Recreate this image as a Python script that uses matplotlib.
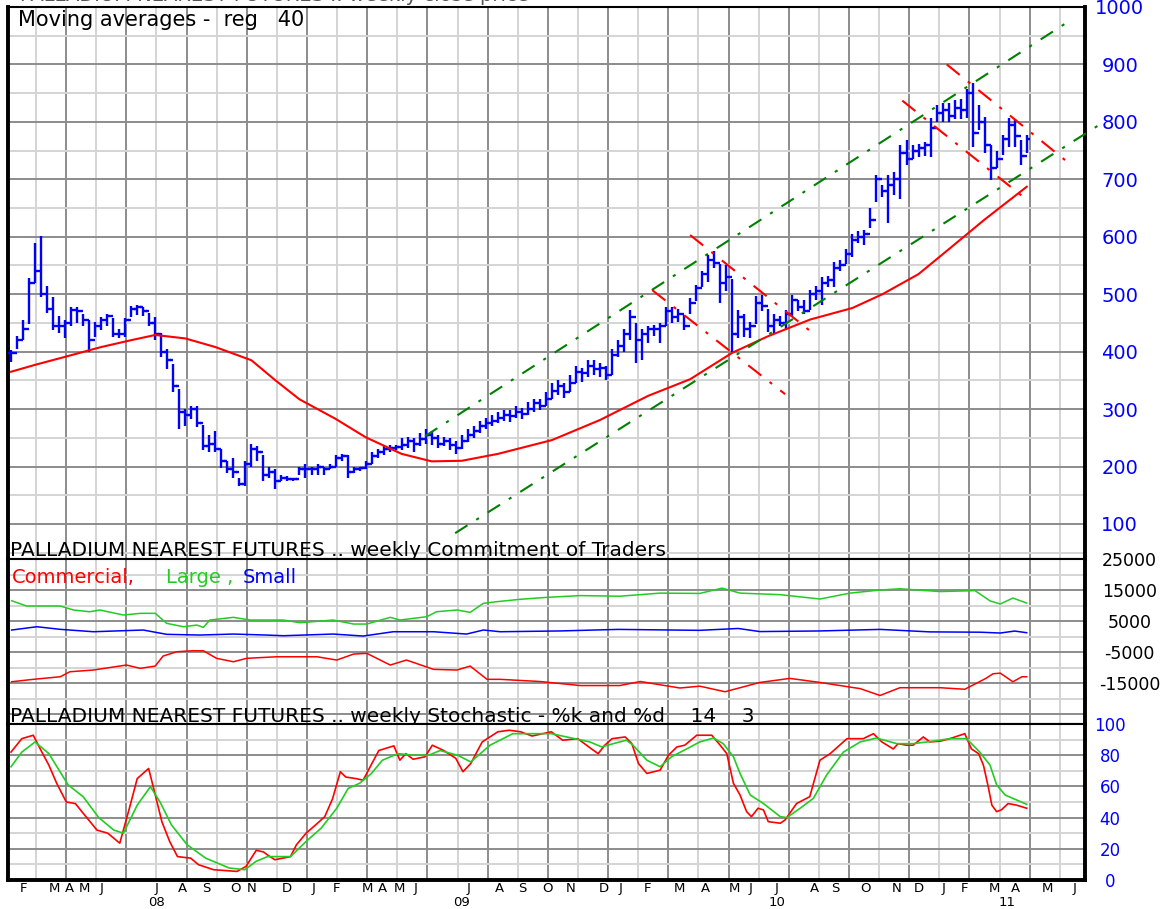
import matplotlib
matplotlib.use("Agg")
import matplotlib.pyplot as plt
import numpy as np
from matplotlib.transforms import blended_transform_factory

# weekly bars, one per week starting early Feb 2008
highs = [402, 428, 455, 528, 590, 601, 515, 495, 462, 455, 478, 478, 465, 455, 452, 460, 466, 458, 440, 458,
         480, 482, 478, 468, 460, 432, 405, 378, 335, 300, 306, 306, 272, 255, 262, 231, 210, 215, 180, 210,
         240, 235, 220, 200, 195, 185, 183, 180, 200, 205, 200, 205, 200, 205, 220, 222, 220, 200, 200, 210,
         225, 230, 235, 238, 238,
         250, 252, 250, 258, 265, 262, 255, 252, 250, 245, 255, 265, 270, 280, 285, 290, 295, 298, 298, 305,
         302, 312, 318, 318, 330, 345, 350, 345, 360, 375, 372, 385, 385, 380, 375, 405, 420, 440, 472, 450,
         440, 445,
         447, 450, 478, 478, 475, 464, 493, 516, 541, 568, 575, 553, 550, 527, 472, 465, 452, 496, 498, 475,
         465, 462, 472, 498, 490, 490, 507, 515, 530, 532, 556, 560, 578, 604,
         610, 612, 650, 708, 690, 708, 713, 760, 768, 760, 762, 765, 806, 829, 832, 832, 838, 840, 858, 868,
         829, 809, 760, 750, 777, 806, 805, 768, 777]
lows = [382, 405, 420, 448, 520, 495, 468, 438, 432, 423, 445, 450, 445, 400, 425, 438, 445, 425, 423, 425,
        460, 463, 462, 445, 420, 390, 370, 330, 265, 270, 283, 268, 228, 225, 225, 198, 188, 180, 166, 166,
        200, 210, 175, 180, 160, 175, 175, 175, 185, 180, 185, 185, 185, 195, 200, 210, 180, 188, 193, 195,
        205, 215, 220, 226, 228,
        228, 232, 225, 235, 240, 238, 232, 235, 228, 222, 230, 242, 250, 258, 265, 270, 275, 280, 278, 285,
        282, 290, 295, 298, 305, 318, 325, 320, 330, 345, 348, 355, 360, 355, 350, 360, 390, 400, 420, 380,
        385, 415,
        428, 415, 445, 450, 452, 438, 465, 488, 512, 522, 545, 484, 505, 400, 424, 425, 424, 448, 470, 435,
        430, 445, 438, 462, 470, 465, 472, 490, 481, 512, 513, 540, 553, 564,
        590, 585, 615, 660, 670, 624, 673, 665, 725, 735, 739, 740, 739, 800, 800, 800, 805, 805, 806, 757,
        786, 745, 699, 720, 742, 757, 757, 725, 745]
closes = [398, 420, 440, 520, 540, 500, 475, 445, 445, 450, 472, 470, 455, 420, 445, 455, 462, 430, 430, 455,
          475, 478, 470, 450, 430, 400, 385, 340, 295, 290, 300, 275, 235, 240, 230, 210, 195, 190, 170, 205,
          230, 225, 185, 190, 175, 180, 178, 178, 195, 195, 195, 200, 195, 200, 215, 218, 190, 195, 197, 205,
          218, 225, 230, 232, 234,
          238, 245, 240, 248, 255, 250, 240, 245, 238, 232, 245, 255, 262, 270, 275, 280, 285, 290, 288, 295,
          292, 300, 310, 305, 318, 332, 340, 330, 345, 365, 362, 375, 370, 372, 360, 395, 410, 430, 460, 420,
          430, 440,
          440, 445, 470, 460, 465, 445, 485, 510, 535, 560, 555, 520, 530, 430, 460, 440, 445, 485, 480, 445,
          455, 450, 465, 490, 478, 470, 500, 505, 520, 525, 545, 550, 570, 595,
          600, 605, 630, 700, 680, 690, 700, 745, 735, 750, 755, 760, 790, 815, 820, 810, 825, 820, 850, 780,
          800, 760, 720, 735, 770, 795, 775, 740, 770]

# 40 week moving average
ma_weeks = [0, 4, 9, 15, 20, 24, 29, 34, 40, 44, 48, 54, 59, 65, 70, 75, 81, 90, 98, 106,
            113, 120, 126, 133, 140, 145, 151, 156, 162, 169]
ma_vals = [365, 377, 391, 408, 420, 429, 423, 408, 385, 350, 317, 283, 251, 222, 209, 210, 222, 246, 281, 323,
           352, 398, 427, 456, 476, 500, 535, 578, 630, 687]

# hand drawn trend lines (start, end)
chan_weeks = [[68.9, 175.4], [73.9, 182.0]]
chan_vals = [[253, 971], [84, 801]]
down_weeks = [[106.7, 128.8], [113.0, 133.8], [148.3, 169.2], [155.7, 176.5]]
down_vals = [[507, 326], [603, 429], [837, 663], [900, 724]]

# commitment of traders
comm_weeks = [0.1, 3.7, 8.2, 9.8, 13.7, 19.2, 21.5, 24.0, 25.3, 27.6, 30.3, 32.0, 34.2, 37.0, 39.2, 44.2,
              50.9, 54.2, 57.0, 59.2, 63.1, 65.8, 70.3, 74.2, 76.4, 79.2, 81.4, 88.0, 94.7, 101.3, 104.7,
              111.3, 114.6, 118.8, 124.6, 129.6, 134.6, 141.3, 144.6, 147.9, 154.6, 158.7, 162.2, 163.4,
              164.6, 166.7, 168.2, 169.0]
comm_vals = [-14580, -13800, -12970, -11350, -10800, -9190, -10260, -9520, -6290, -4900, -4580, -4580,
             -7030, -8130, -7030, -6520, -6520, -7580, -5650, -5420, -9190, -7580, -10580, -10800, -9520,
             -13800, -13800, -14500, -15800, -15800, -14500, -16600, -16000, -17800, -14800, -13500,
             -14800, -16800, -19000, -16500, -16500, -17000, -13500, -12000, -11800, -14580, -12970, -12970]
large_weeks = [0.1, 2.6, 8.2, 10.4, 13.1, 14.8, 18.7, 21.5, 24.0, 25.9, 28.7, 30.9, 32.0, 33.1, 37.0, 39.8,
               45.3, 48.1, 53.6, 57.0, 59.2, 63.1, 64.7, 69.2, 70.8, 74.2, 76.4, 78.6, 80.8, 84.7, 88.9,
               94.7, 101.3, 108.0, 114.6, 118.3, 121.3, 128.0, 134.6, 139.6, 144.6, 147.9, 154.6, 160.4,
               162.9, 164.6, 166.7, 169.0]
large_vals = [11550, 9840, 9840, 8550, 8000, 8550, 6940, 7480, 7480, 4260, 3160, 3700, 2960, 5320, 6190,
              5320, 5320, 4450, 5320, 4030, 4030, 6190, 5320, 6400, 8000, 8550, 7800, 10700, 11230, 12000,
              12600, 13200, 13000, 14000, 13900, 15600, 14000, 13500, 12100, 14000, 15000, 15400, 14500,
              14800, 11500, 10500, 12400, 10800]
small_weeks = [0.1, 4.3, 8.2, 13.7, 22.0, 25.9, 31.4, 37.0, 42.5, 45.3, 53.6, 58.6, 63.6, 70.3, 75.8, 78.6,
               81.4, 91.3, 101.0, 114.6, 121.0, 124.6, 134.6, 144.6, 152.9, 161.2, 164.6, 167.0, 169.0]
small_vals = [2100, 3160, 2320, 1550, 2100, 710, 480, 800, 480, 260, 800, 160, 1550, 1550, 800, 2100, 1550,
              1800, 2300, 2000, 2600, 1600, 1800, 2300, 1500, 1400, 1130, 1770, 1230]

# stochastic %k / %d
k_weeks = [0, 1.8, 3.7, 5.0, 6.3, 7.6, 9.2, 10.7, 12.6, 14.3, 16.1, 18.1, 19.7, 21.0, 22.9, 23.8, 25.1,
           26.4, 27.7, 29.9, 31.2, 33.7, 37.6, 39.1, 40.8, 42.0, 42.7, 43.9, 46.5, 47.5, 49.1, 51.0, 52.2,
           53.5, 54.8, 55.7, 57.4, 58.6, 59.9, 61.2, 63.7, 64.7, 65.7, 66.9, 68.9, 70.1, 72.0, 74.0, 75.2,
           76.5, 78.4, 81.0, 82.9, 84.8, 86.7, 89.9, 91.8, 94.3, 96.6, 97.7, 98.8, 100.0, 102.2, 103.3,
           104.4, 105.8, 108.0, 109.4, 110.8, 112.1, 114.1, 116.6, 118.0, 119.1, 120.2, 121.3, 122.4, 123.2,
           124.3, 125.2, 126.0, 128.0, 128.8, 130.7, 132.9, 134.6, 136.3, 139.1, 141.8, 143.5, 144.9, 146.8,
           147.6, 149.0, 150.1, 151.8, 152.9, 154.6, 156.2, 158.7, 159.8, 161.0, 161.8, 162.6, 163.2, 164.0,
           164.8, 165.9, 167.3, 169.0]
k_vals = [82, 90.6, 92.8, 83, 73.6, 62, 50, 49, 40, 32, 30, 23.6, 46, 65, 71.5, 57.7, 37.4, 24.7, 15, 14,
          9.8, 6.6, 5.5, 8.7, 19, 18, 16, 13, 15, 22.6, 30, 36.4, 40.6, 52, 69.4, 66, 65, 64, 73.6, 83,
          86, 76.8, 81, 77.4, 79, 86.4, 83, 78, 69.4, 74.7, 88.5, 95, 96, 95, 92.3, 95, 89.6, 90.6, 84, 81,
          86.4, 90.6, 91.7, 87.4, 74.7, 68.3, 70.4, 80, 85.3, 86.4, 92.8, 92.8, 86.4, 81, 62, 54.5, 43.8,
          40.6, 46, 44.9, 37.4, 36.4, 38.5, 49, 53.4, 76.8, 81, 90.6, 90.6, 93.8, 88.5, 84, 87.4, 86.4,
          86.4, 91.7, 88.5, 89, 90.6, 93.8, 84, 81, 73.6, 59.8, 48, 43.8, 45, 49, 48, 46]
d_weeks = [0, 1.8, 4.0, 6.3, 9.5, 12.0, 14.6, 17.1, 18.7, 21.0, 23.2, 24.8, 26.7, 29.3, 32.4, 36.3, 38.9,
           40.8, 42.7, 46.5, 49.1, 51.6, 54.2, 56.1, 58.0, 59.9, 61.8, 64.4, 66.9, 69.5, 71.4, 74.3, 76.5,
           79.7, 83.5, 87.4, 89.9, 93.8, 96.3, 98.3, 100.2, 102.4, 103.5, 105.8, 108.0, 109.9, 112.4, 114.6,
           116.9, 118.5, 120.2, 121.3, 123.0, 125.2, 128.0, 129.1, 131.3, 133.5, 135.7, 138.5, 141.3, 144.0,
           147.4, 150.1, 153.5, 156.2, 159.0, 161.2, 162.9, 164.0, 165.4, 169.0]
d_vals = [72.6, 82, 88.5, 81, 61, 53.4, 40, 32, 30, 48, 59.8, 50, 35.3, 22.6, 14, 7.7, 6.6, 12, 15, 15,
          24.7, 33.2, 46, 58.7, 62, 68, 76.8, 81, 80, 80, 83, 80, 75.7, 86.4, 93.8, 93.8, 93.8, 90.6, 88.5,
          85.3, 87.4, 89.6, 86.4, 76.8, 72.6, 79, 84, 88.5, 91, 87.4, 79, 68.3, 54.5, 49, 40.6, 40, 46,
          52.3, 67.2, 82, 88.5, 91, 87.4, 87.4, 89, 90.6, 90.6, 82, 73.6, 61, 54.5, 48.5]

month_letters = ["F", "M", "A", "M", "J", "J", "A", "S", "O", "N", "D", "J", "F", "M", "A", "M", "J",
                 "J", "A", "S", "O", "N", "D", "J", "F", "M", "A", "M", "J", "J", "A", "S", "O", "N",
                 "D", "J", "F", "M", "A", "M", "J"]
month_weeks = [2.0, 7.2, 9.8, 12.3, 15.1, 24.2, 28.6, 32.5, 37.3, 40.1, 45.9, 50.3, 54.2, 59.3, 61.8,
               64.7, 67.3, 76.2, 81.3, 85.1, 89.3, 93.1, 98.7, 101.5, 105.9, 111.2, 115.6, 120.3, 123.1,
               127.4, 133.7, 137.1, 142.1, 147.4, 151.1, 155.2, 158.6, 163.6, 167.1, 172.4, 177.0]
year_labels = ["08", "09", "10", "11"]
year_weeks = [24.2, 75.0, 127.4, 165.8]

W, H = 1166, 909
BLUE = "#0000ff"
RED = "#ff0000"
GREEN = "#22cc22"
DKGREEN = "#008000"
GRID_DARK = "#8c8c8c"
GRID_LIGHT = "#d4d4d4"

plt.rcParams["font.family"] = "DejaVu Sans"
fig = plt.figure(figsize=(W / 100, H / 100), dpi=100)


def add_panel(top, bottom):
    return fig.add_axes([8 / W, 1 - bottom / H, 1077 / W, (bottom - top) / H])


ax1 = add_panel(7, 559)
ax2 = add_panel(559, 724)
ax3 = add_panel(724, 880)

grid_weeks = 4.16 + 5.01 * np.arange(35)
for ax in (ax1, ax2, ax3):
    ax.set_xlim(-0.5, 178.7)
    for k, w in enumerate(grid_weeks):
        ax.axvline(w, color=GRID_DARK if k % 2 else GRID_LIGHT, lw=1.4, zorder=0)
    ax.yaxis.tick_right()
    ax.grid(which="major", axis="y", color=GRID_DARK, lw=1.4)
    ax.grid(which="minor", axis="y", color=GRID_LIGHT, lw=1.4)
    ax.set_axisbelow(True)
    ax.tick_params(axis="y", which="both", length=0)
    ax.tick_params(axis="x", which="both", length=0)
    for side in ("left", "right"):
        ax.spines[side].set_linewidth(2.8)
    for side in ("top", "bottom"):
        ax.spines[side].set_linewidth(1.5)
ax3.spines["bottom"].set_linewidth(2.8)
ax1.set_xticks([])
ax2.set_xticks([])

# price panel
weeks = np.arange(len(closes))
opens = [closes[0]] + closes[:-1]
ax1.vlines(weeks, lows, highs, color=BLUE, lw=1.7, zorder=3)
ax1.hlines(closes, weeks, weeks + 0.55, color=BLUE, lw=1.7, zorder=3)
ax1.hlines(opens, weeks - 0.55, weeks, color=BLUE, lw=1.7, zorder=3)
ax1.plot(ma_weeks, ma_vals, color=RED, lw=1.5, zorder=4)
for xs, ys in zip(chan_weeks, chan_vals):
    ax1.plot(xs, ys, color=DKGREEN, lw=1.5, ls=(0, (7, 5, 1.5, 5)), clip_on=False, zorder=5)
for xs, ys in zip(down_weeks, down_vals):
    ax1.plot(xs, ys, color=RED, lw=1.5, ls=(0, (8, 5, 1.5, 5)), zorder=5)
ax1.set_ylim(39, 1000)
ax1.set_yticks(range(100, 1001, 100))
ax1.set_yticks(range(50, 1000, 100), minor=True)
ax1.tick_params(axis="y", labelcolor=BLUE, labelsize=14, pad=25)
plt.setp(ax1.get_yticklabels(), ha="center")
ax1.text(0.0093, 0.976, "Moving averages -  reg   40", transform=ax1.transAxes,
         fontsize=15, va="center", ha="left")
ax1.text(0.002, 0.0145, "PALLADIUM NEAREST FUTURES .. weekly Commitment of Traders",
         transform=ax1.transAxes, fontsize=14.5, va="center", ha="left")
fig.text(20 / W, 1 - 1 / H, "PALLADIUM NEAREST FUTURES .. weekly close price", fontsize=14,
         va="baseline", ha="left", color="#555555")

# commitment of traders panel
ax2.plot(comm_weeks, comm_vals, color=RED, lw=1.1)
ax2.plot(large_weeks, large_vals, color=GREEN, lw=1.1)
ax2.plot(small_weeks, small_vals, color=BLUE, lw=1.1)
ax2.set_ylim(-28200, 25000)
ax2.set_yticks([-25000, -15000, -5000, 5000, 15000, 25000],
               ["", "-15000", "-5000", "5000", "15000", "25000"])
ax2.set_yticks([-20000, -10000, 0, 10000, 20000], minor=True)
ax2.tick_params(axis="y", labelcolor="black", labelsize=12.5, pad=32)
plt.setp(ax2.get_yticklabels(), ha="center")
ax2.text(0.0037, 0.885, "Commercial,", color=RED, transform=ax2.transAxes, fontsize=14, va="center")
ax2.text(0.1467, 0.885, "Large ,", color=GREEN, transform=ax2.transAxes, fontsize=14, va="center")
ax2.text(0.218, 0.885, "Small", color=BLUE, transform=ax2.transAxes, fontsize=14, va="center")
ax2.text(0.002, 0.048, "PALLADIUM NEAREST FUTURES .. weekly Stochastic - %k and %d    14    3",
         transform=ax2.transAxes, fontsize=14.5, va="center", ha="left")

# stochastic panel
ax3.plot(k_weeks, k_vals, color=RED, lw=1.2)
ax3.plot(d_weeks, d_vals, color=GREEN, lw=1.2)
ax3.set_ylim(0, 100)
ax3.set_yticks(range(0, 101, 20))
ax3.set_yticks(range(10, 100, 20), minor=True)
ax3.tick_params(axis="y", labelcolor=BLUE, labelsize=12, pad=18)
plt.setp(ax3.get_yticklabels(), ha="center")
ax3.set_xticks(month_weeks, month_letters)
ax3.tick_params(axis="x", labelsize=9.5, pad=1.5)
trans = blended_transform_factory(ax3.transData, ax3.transAxes)
for w, lab in zip(year_weeks, year_labels):
    ax3.text(w, -0.147, lab, transform=trans, ha="center", va="center", fontsize=9.5)

fig.savefig("out.png", dpi=100)
